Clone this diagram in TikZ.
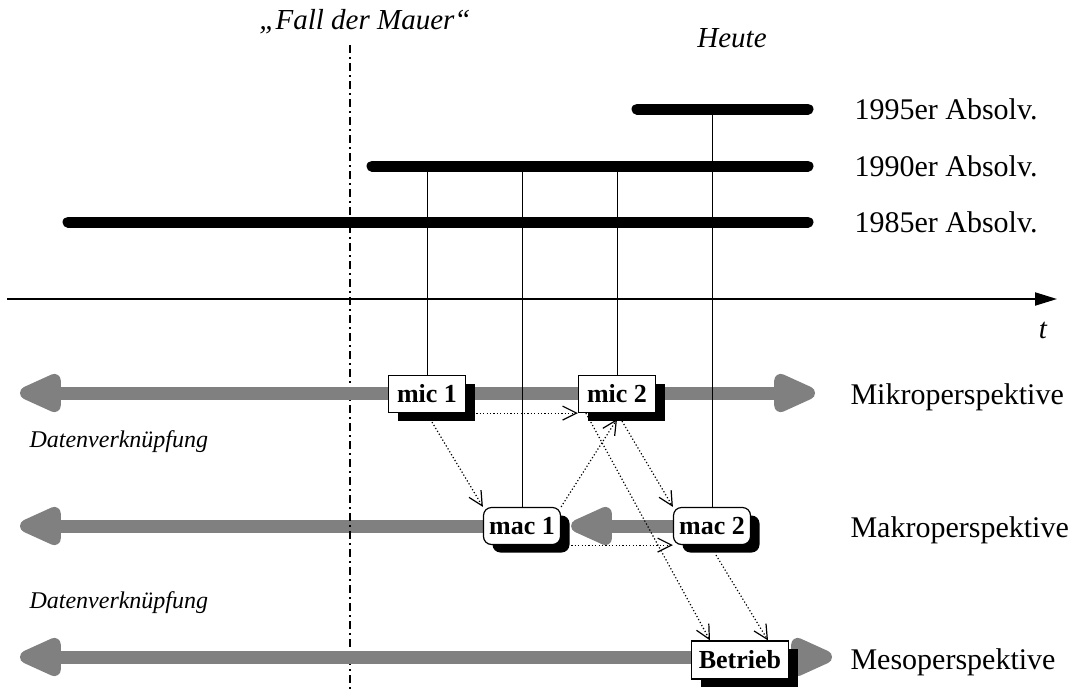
\documentclass[tikz,border=0pt]{standalone}
\usepackage{fontspec}
\setmainfont{Liberation Serif}
\usetikzlibrary{arrows.meta, positioning, shadows, backgrounds}

\begin{document}
\begin{tikzpicture}[x=1pt, y=-1pt,
    bar/.style={line width=11pt, line cap=round},
    tie/.style={line width=0.9pt},
    band/.style={line width=13pt, draw=black!50},
    bandhead/.style={band, -{Triangle[length=52pt, width=41pt, round]}},
    bandboth/.style={band, {Triangle[length=52pt, width=41pt, round]}-{Triangle[length=52pt, width=41pt, round]}},
    link/.style={line width=1.2pt, dash pattern=on 1.2pt off 2.2pt, -{Straight Barb[length=14pt, width=14pt]}},
    micbox/.style={draw, line width=1.2pt, fill=white, inner sep=0pt,
      minimum width=77pt, minimum height=37pt, font=\bfseries\fontsize{26}{26}\selectfont,
      drop shadow={shadow xshift=9pt, shadow yshift=-8pt, opacity=1, fill=black}},
    macbox/.style={micbox, rounded corners=8pt},
    lbl/.style={anchor=west, font=\fontsize{30}{30}\selectfont},
    head/.style={font=\itshape\fontsize{29}{29}\selectfont},
    dv/.style={anchor=west, font=\itshape\fontsize{24}{24}\selectfont}]
    \useasboundingbox (0,0) rectangle (1075,689);

    \node[head] (mauer) at (365,22) {„Fall der Mauer“};
    \node[head] (heute) at (732,38) {Heute};

    \coordinate (b95) at (637,109);
    \coordinate (b90) at (372,166);
    \coordinate (b85) at (68,222);
    \draw[bar] (b95) -- (808,109);
    \draw[bar] (b90) -- (808,166);
    \draw[bar] (b85) -- (808,222);
    \node[lbl] (a95) at (851,109) {1995er Absolv.};
    \node[lbl] (a90) at (851,166) {1990er Absolv.};
    \node[lbl] (a85) at (851,222) {1985er Absolv.};

    \draw[line width=2pt, -{Triangle[length=22pt, width=13pt]}] (7,299) -- (1057,299);
    \node[head] (t) at (1043,330) {t};

    \draw[line width=1.6pt, dash pattern=on 8pt off 4pt on 2pt off 4pt] (350,45) -- (350,689);

    \draw[bandboth] (20,393) -- (815,393);
    \draw[bandboth] (20,657) -- (832,657);

    \node[micbox] (mic1) at (427,394) {mic 1};
    \node[micbox] (mic2) at (617,394) {mic 2};
    \node[macbox] (mac1) at (522,526) {mac 1};
    \node[macbox] (mac2) at (712,526) {mac 2};
    \node[micbox, minimum width=97pt, minimum height=38pt] (betrieb) at (740,660) {Betrieb};

    \begin{scope}[on background layer]
    \draw[bandhead] (mac1.center) -- (20,526);
    \draw[bandhead] (mac2.west) -- ([xshift=10pt]mac1.east);
    \end{scope}

    \draw[tie] (mic1.north) -- (mic1.north |- b90);
    \draw[tie] (mac1.north) -- (mac1.north |- b90);
    \draw[tie] (mic2.north) -- (mic2.north |- b90);
    \draw[tie] (mac2.north) -- (mac2.north |- b95);

    \draw[link] (mic1.south east) -- (mic2.south west);
    \draw[link] ([shift={(5pt,-9pt)}]mic1.south) -- (mac1.north west);
    \draw[link] (mac1.north east) -- ([yshift=-6pt]mic2.south);
    \draw[link] ([shift={(5pt,-8pt)}]mic2.south) -- (mac2.north west);
    \draw[link] ([xshift=8pt]mic2.south west) -- ([xshift=-30pt]betrieb.north);
    \draw[link] (mac1.south east) -- (mac2.south west);
    \draw[link] ([shift={(4pt,-10pt)}]mac2.south) -- ([xshift=28pt]betrieb.north);

    \node[lbl] (mikro) at (847,397) {Mikroperspektive};
    \node[lbl] (makro) at (847,530) {Makroperspektive};
    \node[lbl] (meso) at (847,662) {Mesoperspektive};
    \node[dv] (dv1) at (26,442) {Datenverknüpfung};
    \node[dv] (dv2) at (26,603) {Datenverknüpfung};
\end{tikzpicture}
\end{document}
